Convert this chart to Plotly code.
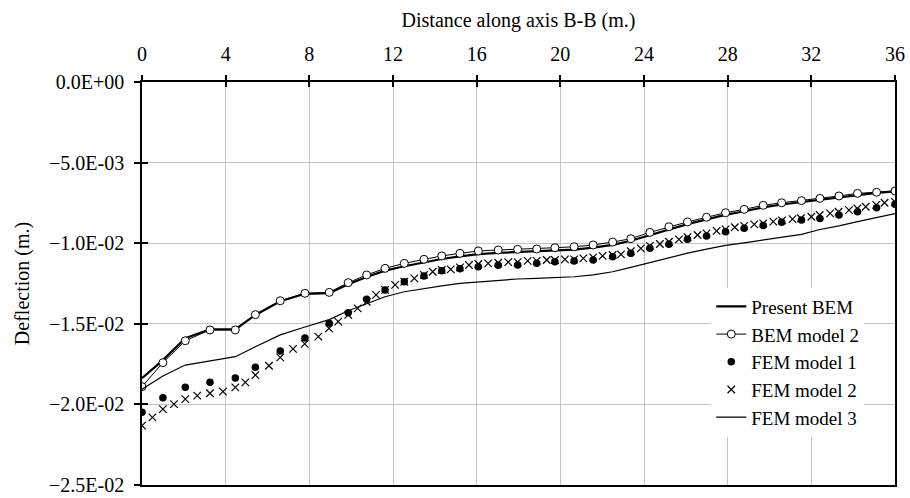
import plotly.graph_objects as go

# Node positions along axis B-B (m.)
x_nodes = [0, 1.0, 2.07, 3.25, 4.46, 5.42, 6.61, 7.79, 8.95, 9.86, 10.74, 11.62,
           12.54, 13.48, 14.33, 15.2, 16.08, 17.03, 17.96, 18.87, 19.74, 20.66,
           21.57, 22.5, 23.37, 24.28, 25.19, 26.08, 26.99, 27.9, 28.79, 29.7,
           30.58, 31.53, 32.41, 33.32, 34.21, 35.12, 36]

present_bem = [-0.01838, -0.01725, -0.01590, -0.01534, -0.01534, -0.01445, -0.01360,
               -0.01314, -0.01310, -0.01255, -0.01210, -0.01170, -0.01143, -0.01120,
               -0.01098, -0.01082, -0.01068, -0.01060, -0.01055, -0.01053, -0.01047,
               -0.01040, -0.01028, -0.01010, -0.00985, -0.00950, -0.00914, -0.00882,
               -0.00852, -0.00824, -0.00802, -0.00778, -0.00760, -0.00745, -0.00730,
               -0.00714, -0.00698, -0.00688, -0.00678]

bem_model2 = [-0.01890, -0.01741, -0.01605, -0.01538, -0.01538, -0.01443, -0.01357,
              -0.01311, -0.01305, -0.01245, -0.01197, -0.01156, -0.01125, -0.01100,
              -0.01079, -0.01063, -0.01048, -0.01042, -0.01038, -0.01036, -0.01028,
              -0.01022, -0.01011, -0.00993, -0.00972, -0.00933, -0.00898, -0.00868,
              -0.00839, -0.00811, -0.00790, -0.00765, -0.00749, -0.00736, -0.00722,
              -0.00707, -0.00691, -0.00684, -0.00676]

fem_model1 = [-0.02049, -0.01958, -0.01894, -0.01863, -0.01836, -0.01770, -0.01669,
              -0.01588, -0.01497, -0.01431, -0.01348, -0.01290, -0.01239, -0.01203,
              -0.01171, -0.01159, -0.01146, -0.01137, -0.01135, -0.01125, -0.01115,
              -0.01110, -0.01104, -0.01084, -0.01063, -0.01032, -0.01007, -0.00976,
              -0.00955, -0.00929, -0.00908, -0.00890, -0.00870, -0.00856, -0.00846,
              -0.00825, -0.00805, -0.00780, -0.00759]

fem_model3 = [-0.01906, -0.01824, -0.01756, -0.01729, -0.01704, -0.01642, -0.01569,
              -0.01520, -0.01474, -0.01419, -0.01373, -0.01332, -0.01301, -0.01280,
              -0.01265, -0.01249, -0.01239, -0.01228, -0.01222, -0.01218, -0.01214,
              -0.01208, -0.01197, -0.01177, -0.01150, -0.01120, -0.01090, -0.01062,
              -0.01037, -0.01013, -0.00998, -0.00980, -0.00962, -0.00945, -0.00915,
              -0.00893, -0.00866, -0.00842, -0.00817]

x_fem2 = [0, 0.5, 1.0, 1.53, 2.07, 2.64, 3.25, 3.87, 4.46, 4.94, 5.42, 6.07, 6.61,
          7.22, 7.78, 8.43, 8.94, 9.38, 9.86, 10.31, 10.74, 11.19, 11.62, 12.1, 12.54,
          13.02, 13.48, 13.9, 14.33, 14.76, 15.2, 15.63, 16.08, 16.55, 17.03, 17.51,
          17.96, 18.44, 18.87, 19.35, 19.74, 20.22, 20.66, 21.1, 21.57, 22.02, 22.5,
          22.9, 23.37, 23.85, 24.28, 24.76, 25.19, 25.67, 26.08, 26.56, 26.99, 27.47,
          27.9, 28.34, 28.79, 29.27, 29.7, 30.18, 30.6, 31.1, 31.5, 32.0, 32.4, 32.9,
          33.3, 33.8, 34.2, 34.6, 35.1, 35.5, 36.0]
fem_model2 = [-0.02132, -0.02080, -0.02029, -0.01998, -0.01967, -0.01946, -0.01931,
              -0.01921, -0.01894, -0.01863, -0.01818, -0.01760, -0.01708, -0.01656,
              -0.01625, -0.01580, -0.01528, -0.01487, -0.01445, -0.01404, -0.01363,
              -0.01321, -0.01290, -0.01259, -0.01239, -0.01218, -0.01197, -0.01177,
              -0.01166, -0.01162, -0.01150, -0.01135, -0.01129, -0.01125, -0.01121,
              -0.01117, -0.01117, -0.01110, -0.01110, -0.01104, -0.01104, -0.01100,
              -0.01100, -0.01094, -0.01088, -0.01079, -0.01073, -0.01069, -0.01050,
              -0.01032, -0.01017, -0.01005, -0.00991, -0.00976, -0.00963, -0.00949,
              -0.00939, -0.00924, -0.00914, -0.00901, -0.00893, -0.00883, -0.00877,
              -0.00866, -0.00858, -0.00851, -0.00845, -0.00836, -0.00825, -0.00815,
              -0.00805, -0.00795, -0.00785, -0.00774, -0.00762, -0.00749, -0.00744]

x_ticks = [0, 4, 8, 12, 16, 20, 24, 28, 32, 36]
y_ticks = [0.0, -0.005, -0.010, -0.015, -0.020, -0.025]
y_tick_labels = ["0.0E+00", "\u22125.0E-03", "\u22121.0E-02", "\u22121.5E-02",
                 "\u22122.0E-02", "\u22122.5E-02"]

FONT = "Liberation Serif"
FS = 20

fig = go.Figure()
fig.add_trace(go.Scatter(x=x_nodes, y=present_bem, mode="lines", name="Present BEM",
                         line=dict(color="black", width=2.2)))
fig.add_trace(go.Scatter(x=x_nodes, y=bem_model2, mode="lines+markers", name="BEM model 2",
                         line=dict(color="black", width=1),
                         marker=dict(symbol="circle", size=8, color="white",
                                     line=dict(color="black", width=1))))
fig.add_trace(go.Scatter(x=x_nodes, y=fem_model1, mode="markers", name="FEM model 1",
                         marker=dict(symbol="circle", size=7.5, color="black")))
fig.add_trace(go.Scatter(x=x_fem2, y=fem_model2, mode="markers", name="FEM model 2",
                         marker=dict(symbol="x-thin", size=7.5, color="black",
                                     line=dict(color="black", width=1.2))))
fig.add_trace(go.Scatter(x=x_nodes, y=fem_model3, mode="lines", name="FEM model 3",
                         line=dict(color="black", width=1.2)))
# invisible helper trace for the inner tick axes
fig.add_trace(go.Scatter(x=[0], y=[0], xaxis="x2", yaxis="y2", mode="markers",
                         marker=dict(opacity=0), showlegend=False, hoverinfo="skip"))

fig.update_layout(
    width=910, height=498,
    margin=dict(l=142, r=15, t=82, b=13),
    paper_bgcolor="white", plot_bgcolor="white",
    font=dict(family=FONT, size=FS, color="black"),
    showlegend=True,
    legend=dict(x=0.756, y=0.49, xanchor="left", yanchor="top",
                bgcolor="white", borderwidth=0,
                font=dict(family=FONT, size=19, color="black"),
                tracegroupgap=0),
    xaxis=dict(side="top", range=[0, 36], tickvals=x_ticks, automargin=False,
               ticks="outside", ticklen=5, tickwidth=1.5, tickcolor="black",
               ticklabelstandoff=6,
               showgrid=True, gridcolor="#c4c4c4", gridwidth=1.2,
               showline=True, linecolor="black", linewidth=1.5, mirror=True,
               zeroline=False,
               title=dict(text="Distance along axis B-B (m.)", standoff=10,
                          font=dict(family=FONT, size=FS)),
               tickfont=dict(family=FONT, size=FS)),
    yaxis=dict(range=[-0.025, 0.0], tickvals=y_ticks, ticktext=y_tick_labels,
               automargin=False,
               ticks="outside", ticklen=6, tickwidth=1.5, tickcolor="black",
               ticklabelstandoff=6,
               showgrid=True, gridcolor="#c4c4c4", gridwidth=1.2,
               showline=True, linecolor="black", linewidth=1.5, mirror=True,
               zeroline=False,
               title=dict(text="Deflection (m.)", standoff=14,
                          font=dict(family=FONT, size=FS)),
               tickfont=dict(family=FONT, size=FS)),
    xaxis2=dict(overlaying="x", side="top", range=[0, 36], tickvals=x_ticks,
                automargin=False,
                ticks="inside", ticklen=5, tickwidth=1.5, tickcolor="black",
                showticklabels=False, showgrid=False, zeroline=False, showline=False),
    yaxis2=dict(overlaying="y", side="left", range=[-0.025, 0.0], tickvals=y_ticks,
                automargin=False,
                ticks="inside", ticklen=6, tickwidth=1.5, tickcolor="black",
                showticklabels=False, showgrid=False, zeroline=False, showline=False),
)

fig.write_html("out.html")
